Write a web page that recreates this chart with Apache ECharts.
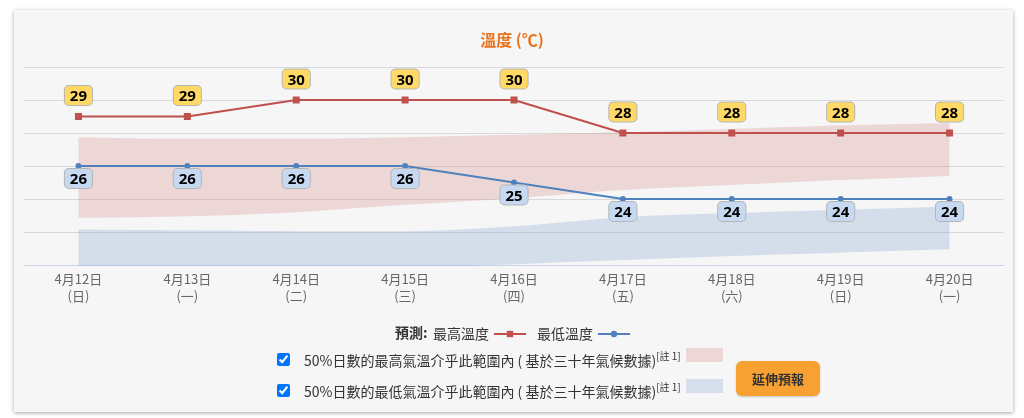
<!DOCTYPE html>
<html>
<head>
<meta charset="utf-8">
<title>溫度</title>
<script src="https://cdn.jsdelivr.net/npm/echarts@6/dist/echarts.min.js"></script>
<style>
  * { margin: 0; padding: 0; }
  body { width: 1024px; height: 418px; background: #fff; overflow: hidden; position: relative;
         font-family: 'Noto Sans CJK TC', 'Noto Sans', sans-serif; }
  .card { position: absolute; left: 14px; top: 10px; width: 999px; height: 402px; background: #f6f6f6;
          box-shadow: 0 1px 4px rgba(0,0,0,0.35); }
  #chart { position: absolute; left: 0; top: 0; width: 1024px; height: 418px; }
  .row { position: absolute; left: 277px; height: 16px; font-size: 14px; color: #333; white-space: nowrap; }
  .row input { position: absolute; left: 0; top: 1px; width: 13px; height: 13px; margin: 0; }
  .row span.t { position: absolute; left: 27px; top: -6px; line-height: 20px; }
  .row sup { font-size: 10px; vertical-align: 6px; }
  .sw { position: absolute; left: 409px; top: -4px; width: 37px; height: 14px; }
  .btn { position: absolute; left: 736px; top: 361px; width: 84px; height: 35px; background: #f7a133;
         border-radius: 6px; box-shadow: 0 1px 2px rgba(0,0,0,0.2); font-size: 13px; font-weight: bold;
         color: #333; text-align: center; line-height: 35px; }
</style>
</head>
<body>
<div class="card"></div>
<div id="chart"></div>
<div class="row" style="top:352px"><input type="checkbox" checked><span class="t">50%日數的最高氣溫介乎此範圍內 ( 基於三十年氣候數據)<sup>[註 1]</sup></span><div class="sw" style="background:#ecd6d6"></div></div>
<div class="row" style="top:383px"><input type="checkbox" checked><span class="t">50%日數的最低氣溫介乎此範圍內 ( 基於三十年氣候數據)<sup>[註 1]</sup></span><div class="sw" style="background:#d5dfec"></div></div>
<div class="btn">延伸預報</div>
<script>
var days = ['4月12日\n(日)', '4月13日\n(一)', '4月14日\n(二)', '4月15日\n(三)', '4月16日\n(四)',
            '4月17日\n(五)', '4月18日\n(六)', '4月19日\n(日)', '4月20日\n(一)'];
var maxTemp = [29, 29, 30, 30, 30, 28, 28, 28, 28];
var minTemp = [26, 26, 26, 26, 25, 24, 24, 24, 24];
// 50% range of climate data
var maxBandLow = [22.85, 22.95, 23.2, 23.65, 24.05, 24.55, 24.85, 25.15, 25.4];
var maxBandHigh = [27.75, 27.65, 27.65, 27.75, 27.9, 28.05, 28.25, 28.45, 28.6];
var minBandLow = [19.3, 19.45, 19.6, 19.8, 20.05, 20.3, 20.55, 20.75, 20.95];
var minBandHigh = [22.15, 22.1, 22.05, 22.05, 22.35, 22.9, 23.15, 23.35, 23.55];

function diff(hi, lo) {
  return hi.map(function (v, i) { return +(v - lo[i]).toFixed(2); });
}

var myChart = echarts.init(document.getElementById('chart'));

var labelBase = {
  show: true,
  fontFamily: 'Open Sans',
  fontWeight: 'bold',
  fontSize: 15,
  color: '#000',
  lineHeight: 16,
  padding: [3, 5, 0, 5],
  borderRadius: 4,
  borderWidth: 1,
  borderColor: '#b5b5b5'
};

var option = {
  animation: false,
  title: {
    text: '溫度 (℃)',
    left: 'center',
    top: 27,
    textStyle: { color: '#e8731c', fontSize: 16, fontWeight: 'bold', fontFamily: 'Noto Sans CJK TC' }
  },
  legend: {
    data: ['最高溫度', '最低溫度'],
    left: 428,
    top: 322,
    align: 'right',
    itemWidth: 32,
    itemHeight: 8,
    itemGap: 10,
    textStyle: { color: '#333', fontSize: 14, fontFamily: 'Noto Sans CJK TC' }
  },
  graphic: [{
    type: 'text',
    left: 395,
    top: 326,
    style: { text: '預測:', fill: '#333', font: 'bold 14px "Noto Sans CJK TC"' }
  }],
  grid: { left: 24, right: 20, top: 67, bottom: 153 },
  xAxis: {
    type: 'category',
    data: days,
    boundaryGap: true,
    axisLine: { lineStyle: { color: '#ccd6eb' } },
    axisTick: { show: false },
    axisLabel: { color: '#666', fontSize: 13, lineHeight: 17, margin: 6, fontFamily: 'Noto Sans CJK TC' }
  },
  yAxis: {
    type: 'value',
    min: 20,
    max: 32,
    interval: 2,
    axisLabel: { show: false },
    axisLine: { show: false },
    axisTick: { show: false },
    splitLine: { lineStyle: { color: '#d9d9d9' } }
  },
  series: [
    {
      name: 'maxBandBase', type: 'line', stack: 'maxBand', data: maxBandLow,
      symbol: 'none', smooth: 0.3, lineStyle: { opacity: 0 }, silent: true
    },
    {
      name: 'maxBand', type: 'line', stack: 'maxBand', data: diff(maxBandHigh, maxBandLow),
      symbol: 'none', smooth: 0.3, lineStyle: { opacity: 0 }, silent: true,
      areaStyle: { color: 'rgba(200,90,90,0.2)', opacity: 1 }
    },
    {
      name: 'minBandBase', type: 'line', stack: 'minBand', data: minBandLow,
      symbol: 'none', smooth: 0.3, lineStyle: { opacity: 0 }, silent: true
    },
    {
      name: 'minBand', type: 'line', stack: 'minBand', data: diff(minBandHigh, minBandLow),
      symbol: 'none', smooth: 0.3, lineStyle: { opacity: 0 }, silent: true,
      areaStyle: { color: 'rgba(79,129,189,0.2)', opacity: 1 }
    },
    {
      name: '最高溫度', type: 'line', data: maxTemp,
      symbol: 'rect', symbolSize: 7,
      itemStyle: { color: '#c0504d' },
      lineStyle: { color: '#c0504d', width: 2 },
      label: Object.assign({}, labelBase, { position: 'top', distance: 8, backgroundColor: '#ffd966' }),
      z: 5
    },
    {
      name: '最低溫度', type: 'line', data: minTemp,
      symbol: 'circle', symbolSize: 6,
      itemStyle: { color: '#4f81bd' },
      lineStyle: { color: '#4f81bd', width: 2 },
      label: Object.assign({}, labelBase, { position: 'bottom', distance: 0, backgroundColor: '#c6d9f1' }),
      z: 5
    }
  ]
};

myChart.setOption(option);
</script>
</body>
</html>
